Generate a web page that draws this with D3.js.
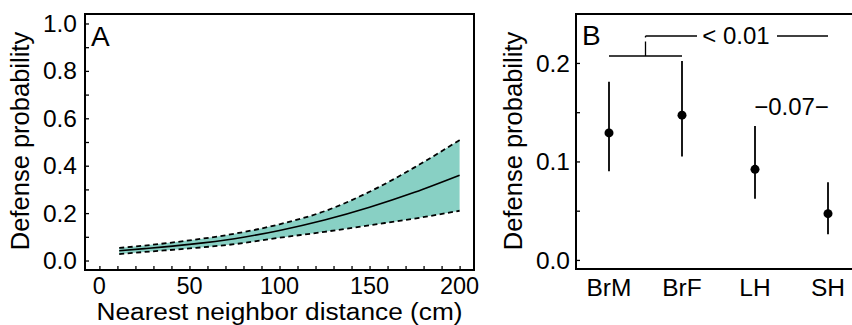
<!DOCTYPE html>
<html>
<head>
<meta charset="utf-8">
<script src="https://cdn.jsdelivr.net/npm/d3@7"></script>
<style>
  body { margin: 0; background: #fff; }
  svg { display: block; font-family: "Liberation Sans", Arial, sans-serif; }
</style>
</head>
<body>
<svg id="chart" width="852" height="325"></svg>
<script>
// Panel A: predicted defense probability vs nearest neighbor distance
const distance = [11, 25, 50, 75, 100, 125, 150, 175, 200];
const probMean = [0.041, 0.050, 0.068, 0.092, 0.127, 0.171, 0.225, 0.288, 0.360];
const probUpper = [0.053, 0.063, 0.085, 0.113, 0.153, 0.208, 0.290, 0.393, 0.508];
const probLower = [0.027, 0.036, 0.051, 0.069, 0.096, 0.121, 0.149, 0.177, 0.210];

// Panel B: defense probability by group
const groups = ["BrM", "BrF", "LH", "SH"];
const groupMean = [0.129, 0.147, 0.092, 0.047];
const groupLow = [0.090, 0.105, 0.062, 0.026];
const groupHigh = [0.181, 0.202, 0.136, 0.079];

const ticksA_y = [0, 0.2, 0.4, 0.6, 0.8, 1.0];
const ticksA_x = [0, 50, 100, 150, 200];
const ticksB_y = [0, 0.1, 0.2];

const svg = d3.select("#chart");
const tickFont = "24.5px";
const xTickFont = "23.5px";
const titleFont = "25.5px";

// ---------- Panel A ----------
const xA = d3.scaleLinear().domain([-8, 208]).range([85, 474]);
const yA = d3.scaleLinear().domain([-0.04, 1.04]).range([270, 14]);

const gA = svg.append("g");

const rowsA = distance.map((d, i) => ({ x: d, m: probMean[i], lo: probLower[i], hi: probUpper[i] }));

gA.append("path")
  .datum(rowsA)
  .attr("fill", "#88d0c4")
  .attr("d", d3.area().curve(d3.curveMonotoneX)
    .x(d => xA(d.x)).y0(d => yA(d.lo)).y1(d => yA(d.hi)));

const lineOf = key => d3.line().curve(d3.curveMonotoneX).x(d => xA(d.x)).y(d => yA(d[key]));

gA.append("path").datum(rowsA)
  .attr("fill", "none").attr("stroke", "#000").attr("stroke-width", 1.8)
  .attr("stroke-dasharray", "5,3.5")
  .attr("d", lineOf("hi"));
gA.append("path").datum(rowsA)
  .attr("fill", "none").attr("stroke", "#000").attr("stroke-width", 1.8)
  .attr("stroke-dasharray", "5,3.5")
  .attr("d", lineOf("lo"));
gA.append("path").datum(rowsA)
  .attr("fill", "none").attr("stroke", "#000").attr("stroke-width", 1.6)
  .attr("d", lineOf("m"));

// inward ticks
gA.append("g")
  .attr("transform", `translate(${xA.range()[0]},0)`)
  .call(d3.axisRight(yA).tickValues(d3.range(0, 1.01, 0.1)).tickSize(4).tickFormat(""))
  .call(g => g.select(".domain").remove());
gA.append("g")
  .attr("transform", `translate(0,${yA.range()[0]})`)
  .call(d3.axisTop(xA).tickValues(d3.range(0, 201, 10)).tickSize(4).tickFormat(""))
  .call(g => g.select(".domain").remove());
gA.selectAll(".tick line").attr("stroke-width", 1.3);

// tick labels
gA.selectAll(".ylab").data(ticksA_y).enter().append("text")
  .attr("x", 77).attr("y", d => yA(d)).attr("dy", "0.35em")
  .attr("text-anchor", "end").style("font-size", tickFont)
  .text(d3.format(".1f"));
gA.selectAll(".xlab").data(ticksA_x).enter().append("text")
  .attr("x", d => xA(d)).attr("y", 293.5)
  .attr("text-anchor", "middle").style("font-size", xTickFont)
  .text(d => d);

// frame
gA.append("rect")
  .attr("x", 85).attr("y", 14).attr("width", 389).attr("height", 256)
  .attr("fill", "none").attr("stroke", "#000").attr("stroke-width", 2);

gA.append("text").attr("x", 91).attr("y", 46).style("font-size", "28px").text("A");

gA.append("text")
  .attr("x", 279.5).attr("y", 320)
  .attr("text-anchor", "middle").style("font-size", "23.5px")
  .attr("textLength", 366).attr("lengthAdjust", "spacingAndGlyphs")
  .text("Nearest neighbor distance (cm)");
gA.append("text")
  .attr("transform", "translate(29,141) rotate(-90)")
  .attr("text-anchor", "middle").style("font-size", titleFont)
  .text("Defense probability");

// ---------- Panel B ----------
const xB = d3.scalePoint().domain(groups).range([609, 828]);
const yB = d3.scaleLinear().domain([-0.0092, 0.2497]).range([269, 14]);

const gB = svg.append("g");

gB.append("g")
  .attr("transform", "translate(576,0)")
  .call(d3.axisRight(yB).tickValues([0, 0.05, 0.1, 0.15, 0.2]).tickSize(4).tickFormat(""))
  .call(g => g.select(".domain").remove())
  .call(g => g.selectAll(".tick line").attr("stroke-width", 1.3));

gB.selectAll(".ylab").data(ticksB_y).enter().append("text")
  .attr("x", 570).attr("y", d => yB(d)).attr("dy", "0.35em")
  .attr("text-anchor", "end").style("font-size", tickFont)
  .text(d3.format(".1f"));

gB.selectAll(".xlab").data(groups).enter().append("text")
  .attr("x", d => xB(d)).attr("y", 296)
  .attr("text-anchor", "middle").style("font-size", tickFont)
  .text(d => d);

const rowsB = groups.map((g, i) => ({ g, m: groupMean[i], lo: groupLow[i], hi: groupHigh[i] }));

gB.selectAll(".err").data(rowsB).enter().append("line")
  .attr("x1", d => xB(d.g)).attr("x2", d => xB(d.g))
  .attr("y1", d => yB(d.lo)).attr("y2", d => yB(d.hi))
  .attr("stroke", "#000").attr("stroke-width", 1.8);
gB.selectAll(".dot").data(rowsB).enter().append("circle")
  .attr("cx", d => xB(d.g)).attr("cy", d => yB(d.m)).attr("r", 4.5)
  .attr("fill", "#000");

// frame (right side falls outside the picture)
gB.append("rect")
  .attr("x", 576).attr("y", 14).attr("width", 285).attr("height", 255)
  .attr("fill", "none").attr("stroke", "#000").attr("stroke-width", 2);

gB.append("text").attr("x", 582).attr("y", 45).style("font-size", "28px").text("B");

// significance brackets
const midBr = (xB("BrM") + xB("BrF")) / 2;
gB.append("line")
  .attr("x1", xB("BrM")).attr("x2", xB("BrF")).attr("y1", 56).attr("y2", 56)
  .attr("stroke", "#000").attr("stroke-width", 1.5);
gB.append("line")
  .attr("x1", midBr).attr("x2", midBr).attr("y1", 36).attr("y2", 56)
  .attr("stroke", "#000").attr("stroke-width", 1.3).attr("stroke-dasharray", "1.5,4,20");
gB.append("line")
  .attr("x1", midBr).attr("x2", 697).attr("y1", 36).attr("y2", 36)
  .attr("stroke", "#000").attr("stroke-width", 1.3);
gB.append("text")
  .attr("x", 736).attr("y", 36).attr("dy", "0.35em")
  .attr("text-anchor", "middle").style("font-size", "24px")
  .text("< 0.01");
gB.append("line")
  .attr("x1", 777).attr("x2", xB("SH")).attr("y1", 36).attr("y2", 36)
  .attr("stroke", "#000").attr("stroke-width", 1.3);
gB.append("text")
  .attr("x", (xB("LH") + xB("SH")) / 2).attr("y", 107).attr("dy", "0.35em")
  .attr("text-anchor", "middle").style("font-size", "24px")
  .text("\u22120.07\u2212");

gB.append("text")
  .attr("transform", "translate(522,141) rotate(-90)")
  .attr("text-anchor", "middle").style("font-size", titleFont)
  .text("Defense probability");
</script>
</body>
</html>
